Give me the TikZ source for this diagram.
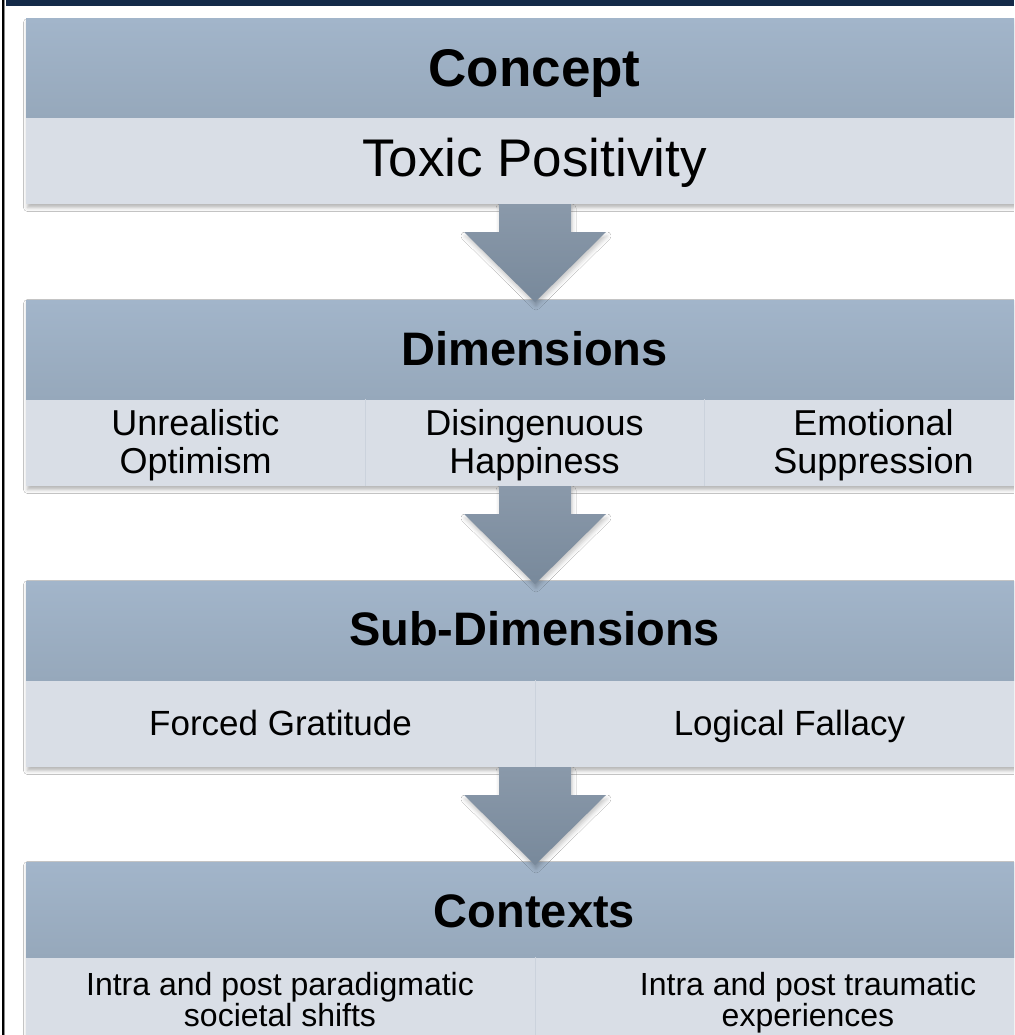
\documentclass[tikz,border=0pt]{standalone}
\usepackage{fontspec}
\setmainfont{Liberation Sans}
\usetikzlibrary{shadows.blur}
\definecolor{hdtop}{RGB}{162,181,202}
\definecolor{hdbot}{RGB}{150,168,187}
\definecolor{lowfill}{RGB}{217,222,230}
\definecolor{arrtop}{RGB}{138,153,170}
\definecolor{arrbot}{RGB}{120,137,155}
\definecolor{navybar}{RGB}{20,42,73}
\definecolor{divline}{RGB}{203,210,220}
\newcommand\tierbox[3]{%
  \path[fill=lowfill, boxshadow] (26,#1) rectangle (1043,#3);
  \path[top color=hdtop, bottom color=hdbot] (26,#1) rectangle (1043,#2);
}
\newcommand\blockarrow[1]{%
  \path[top color=arrtop, bottom color=arrbot, arrshadow]
    (499,#1) -- (571,#1) -- ({571},{#1+28}) -- ({606},{#1+28}) -- ({535},{#1+98})
    -- ({464},{#1+28}) -- ({499},{#1+28}) -- cycle;
}
\begin{document}
\begin{tikzpicture}[x=1pt,y=-1pt,
  hdr/.style={font=\fontsize{47}{52}\selectfont\bfseries, anchor=base, inner sep=0pt},
  bigtxt/.style={font=\fontsize{53}{58}\selectfont, anchor=base, inner sep=0pt},
  dimtxt/.style={font=\fontsize{36}{38}\selectfont, anchor=base, align=center, inner sep=0pt},
  subtxt/.style={font=\fontsize{35}{38}\selectfont, anchor=base, inner sep=0pt},
  ctxtxt/.style={font=\fontsize{32}{24.5}\selectfont, anchor=base, align=center, inner sep=0pt},
  boxshadow/.style={blur shadow={shadow xshift=1.5pt, shadow yshift=-3.5pt, shadow blur radius=4pt, shadow opacity=30}},
  arrshadow/.style={blur shadow={shadow xshift=1pt, shadow yshift=-4pt, shadow blur radius=4pt, shadow opacity=22}},
  divider/.style={draw=divline, line width=1pt}]
\useasboundingbox (0,0) rectangle (1014,1035);
\clip (0,0) rectangle (1014,1035);
\fill[white] (0,0) rectangle (1014,1035);
\tierbox{19}{118}{204}
\tierbox{300}{399}{486}
\tierbox{581}{680}{767}
\tierbox{862}{957}{1044}
% column dividers
\draw[divider] (365,399) -- (365,486);
\draw[divider] (704,399) -- (704,486);
\draw[divider] (535,680) -- (535,767);
\draw[divider] (535,957) -- (535,1044);
% block arrows
\blockarrow{204}
\blockarrow{486}
\blockarrow{767}
% texts
\node[hdr, font=\fontsize{53}{58}\selectfont\bfseries] (concept) at (534.5,87) {Concept};
\node[bigtxt] (toxic) at (534.5,177) {Toxic Positivity};
\node[hdr] (dims) at (534.5,365) {Dimensions};
\node[dimtxt] (unreal) at (195.5,473) {Unrealistic\\Optimism};
\node[dimtxt] (disin) at (534.5,473) {Disingenuous\\Happiness};
\node[dimtxt] (emot) at (873.5,473) {Emotional\\Suppression};
\node[hdr] (subdims) at (534.5,645) {Sub-Dimensions};
\node[subtxt] (forced) at (280.5,735) {Forced Gratitude};
\node[subtxt] (logical) at (789.5,735) {Logical Fallacy};
\node[hdr] (contexts) at (534.5,927) {Contexts};
\node[ctxtxt] (ctxa) at (280,1026) {Intra and post paradigmatic\\societal shifts};
\node[ctxtxt] (ctxb) at (808,1026) {Intra and post traumatic\\experiences};
% frame
\fill[navybar] (6,0) rectangle (1014,6);
\draw[black, line width=1.8pt] (2.6,0) -- (2.6,1035);
\draw[black!45, line width=0.8pt] (4.0,0) -- (4.0,1035);
\end{tikzpicture}
\end{document}
